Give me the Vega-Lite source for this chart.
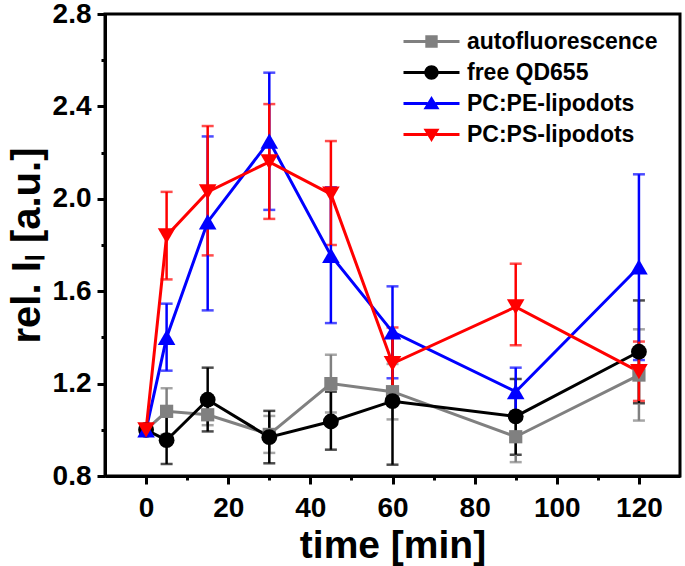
{
  "$schema": "https://vega.github.io/schema/vega-lite/v6.json",
  "width": 575,
  "height": 462,
  "autosize": {"type": "none"},
  "padding": {"left": 105, "top": 14, "right": 5, "bottom": 90},
  "background": "white",
  "data": {
    "values": [
      {"series": "autofluorescence", "time": 0, "value": 1.0, "lo": 0.99, "hi": 1.01},
      {"series": "autofluorescence", "time": 5, "value": 1.08, "lo": 0.98, "hi": 1.18},
      {"series": "autofluorescence", "time": 15, "value": 1.065, "lo": 1.02, "hi": 1.11},
      {"series": "autofluorescence", "time": 30, "value": 0.98, "lo": 0.9, "hi": 1.06},
      {"series": "autofluorescence", "time": 45, "value": 1.2, "lo": 1.075, "hi": 1.325},
      {"series": "autofluorescence", "time": 60, "value": 1.165, "lo": 1.045, "hi": 1.285},
      {"series": "autofluorescence", "time": 90, "value": 0.97, "lo": 0.86, "hi": 1.08},
      {"series": "autofluorescence", "time": 120, "value": 1.237, "lo": 1.04, "hi": 1.435},
      {"series": "free QD655", "time": 0, "value": 1.0, "lo": 0.99, "hi": 1.01},
      {"series": "free QD655", "time": 5, "value": 0.955, "lo": 0.852, "hi": 1.058},
      {"series": "free QD655", "time": 15, "value": 1.13, "lo": 0.993, "hi": 1.269},
      {"series": "free QD655", "time": 30, "value": 0.968, "lo": 0.855, "hi": 1.082},
      {"series": "free QD655", "time": 45, "value": 1.036, "lo": 0.914, "hi": 1.165},
      {"series": "free QD655", "time": 60, "value": 1.124, "lo": 0.849, "hi": 1.4},
      {"series": "free QD655", "time": 90, "value": 1.058, "lo": 0.892, "hi": 1.22},
      {"series": "free QD655", "time": 120, "value": 1.338, "lo": 1.115, "hi": 1.56},
      {"series": "PC:PE-lipodots", "time": 0, "value": 1.0, "lo": 0.99, "hi": 1.01},
      {"series": "PC:PE-lipodots", "time": 5, "value": 1.4, "lo": 1.256, "hi": 1.546},
      {"series": "PC:PE-lipodots", "time": 15, "value": 1.9, "lo": 1.517, "hi": 2.27},
      {"series": "PC:PE-lipodots", "time": 30, "value": 2.25, "lo": 1.952, "hi": 2.546},
      {"series": "PC:PE-lipodots", "time": 45, "value": 1.755, "lo": 1.462, "hi": 2.05},
      {"series": "PC:PE-lipodots", "time": 60, "value": 1.424, "lo": 1.223, "hi": 1.621},
      {"series": "PC:PE-lipodots", "time": 90, "value": 1.165, "lo": 1.065, "hi": 1.269},
      {"series": "PC:PE-lipodots", "time": 120, "value": 1.705, "lo": 1.302, "hi": 2.106},
      {"series": "PC:PS-lipodots", "time": 0, "value": 1.0, "lo": 0.99, "hi": 1.01},
      {"series": "PC:PS-lipodots", "time": 5, "value": 1.84, "lo": 1.651, "hi": 2.03},
      {"series": "PC:PS-lipodots", "time": 15, "value": 2.03, "lo": 1.755, "hi": 2.315},
      {"series": "PC:PS-lipodots", "time": 30, "value": 2.16, "lo": 1.913, "hi": 2.41},
      {"series": "PC:PS-lipodots", "time": 45, "value": 2.02, "lo": 1.8, "hi": 2.25},
      {"series": "PC:PS-lipodots", "time": 60, "value": 1.287, "lo": 1.122, "hi": 1.443},
      {"series": "PC:PS-lipodots", "time": 90, "value": 1.532, "lo": 1.366, "hi": 1.719},
      {"series": "PC:PS-lipodots", "time": 120, "value": 1.252, "lo": 1.125, "hi": 1.382}
    ]
  },
  "encoding": {
    "x": {
      "field": "time",
      "type": "quantitative",
      "scale": {"domain": [-10, 130], "nice": false, "zero": false},
      "axis": {
        "title": "time [min]",
        "values": [0, 10, 20, 30, 40, 50, 60, 70, 80, 90, 100, 110, 120],
        "labelExpr": "datum.value % 20 === 0 ? datum.label : ''",
        "tickSize": {"expr": "datum.value % 20 === 0 ? 8 : 4"},
        "labelPadding": 10,
        "titlePadding": 4
      }
    },
    "color": {
      "field": "series",
      "type": "nominal",
      "scale": {
        "domain": ["autofluorescence", "free QD655", "PC:PE-lipodots", "PC:PS-lipodots"],
        "range": ["#808080", "#000000", "#0000ff", "#ff0000"]
      }
    }
  },
  "layer": [
    {
      "mark": {"type": "errorbar", "ticks": {"size": 12, "thickness": 2.5}, "thickness": 2.5},
      "encoding": {
        "y": {
          "field": "lo",
          "type": "quantitative",
          "title": "rel. Iₗ [a.u.]",
          "scale": {"domain": [0.8, 2.8], "nice": false, "zero": false}
        },
        "y2": {"field": "hi"}
      }
    },
    {
      "mark": {"type": "line", "strokeWidth": 3},
      "encoding": {
        "y": {"field": "value", "type": "quantitative", "title": "rel. Iₗ [a.u.]"}
      }
    },
    {
      "mark": {"type": "point", "filled": true, "opacity": 0},
      "encoding": {
        "y": {"field": "value", "type": "quantitative", "title": "rel. Iₗ [a.u.]"},
        "shape": {
          "field": "series",
          "type": "nominal",
          "scale": {
            "domain": ["autofluorescence", "free QD655", "PC:PE-lipodots", "PC:PS-lipodots"],
            "range": [
              "M-2.8,-0.15H-0.4V0.15H-2.8Z M0.4,-0.15H2.8V0.15H0.4Z M-0.62,-0.62H0.62V0.62H-0.62Z",
              "M-2.8,-0.15H-0.69V0.15H-2.8Z M0.69,-0.15H2.8V0.15H0.69Z M-0.72,0A0.72,0.72,0,1,1,0.72,0A0.72,0.72,0,1,1,-0.72,0Z",
              "M-2.8,-0.15H-0.4V0.15H-2.8Z M0.4,-0.15H2.8V0.15H0.4Z M0,-0.75L0.8,0.58L-0.8,0.58Z",
              "M-2.8,-0.15H-0.4V0.15H-2.8Z M0.4,-0.15H2.8V0.15H0.4Z M0,0.75L-0.8,-0.58L0.8,-0.58Z"
            ]
          }
        }
      }
    },
    {
      "mark": {"type": "point", "filled": true, "opacity": 1},
      "encoding": {
        "y": {
          "field": "value",
          "type": "quantitative",
          "title": "rel. Iₗ [a.u.]",
          "axis": {
            "title": "rel. Iₗ [a.u.]",
            "titleFontSize": 40,
            "values": [0.8, 1.0, 1.2, 1.4, 1.6, 1.8, 2.0, 2.2, 2.4, 2.6, 2.8],
            "format": ".1f",
            "labelExpr": "round(datum.value * 10) % 4 === 0 ? datum.label : ''",
            "tickSize": {"expr": "round(datum.value * 10) % 4 === 0 ? 8 : 4"},
            "labelPadding": 6,
            "titlePadding": 5
          }
        },
        "shape": {
          "condition": [
            {"test": "datum.series === 'autofluorescence'", "value": "square"},
            {"test": "datum.series === 'free QD655'", "value": "circle"},
            {"test": "datum.series === 'PC:PE-lipodots'", "value": "triangle-up"}
          ],
          "value": "triangle-down"
        },
        "size": {
          "condition": [
            {"test": "datum.series === 'autofluorescence'", "value": 175},
            {"test": "datum.series === 'free QD655'", "value": 250}
          ],
          "value": 310
        }
      }
    }
  ],
  "config": {
    "font": "Liberation Sans",
    "view": {"stroke": "black", "strokeWidth": 3},
    "axis": {
      "grid": false,
      "domainColor": "black",
      "domainWidth": 3,
      "tickColor": "black",
      "tickWidth": 3,
      "labelFont": "Liberation Sans",
      "labelFontWeight": "bold",
      "labelFontSize": 28,
      "labelColor": "black",
      "titleFont": "Liberation Sans",
      "titleFontWeight": "bold",
      "titleFontSize": 39,
      "titleColor": "black"
    },
    "legend": {
      "orient": "none",
      "legendX": 315,
      "legendY": 16,
      "padding": 0,
      "title": null,
      "labelFont": "Liberation Sans",
      "labelFontWeight": "bold",
      "labelFontSize": 23,
      "labelColor": "black",
      "labelLimit": 300,
      "labelOffset": 24,
      "symbolSize": 400,
      "symbolOpacity": 1,
      "rowPadding": 7,
      "symbolStrokeWidth": 0
    }
  }
}
